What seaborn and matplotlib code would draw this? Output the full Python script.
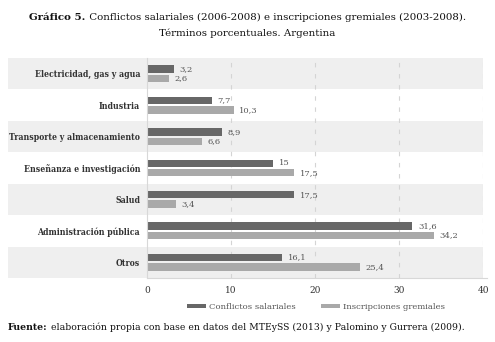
import pandas as pd
import numpy as np
import matplotlib.pyplot as plt
import seaborn as sns

sectores = ['Electricidad, gas y agua', 'Industria', 'Transporte y almacenamiento',
            'Enseñanza e investigación', 'Salud', 'Administración pública', 'Otros']
conflictos = [3.2, 7.7, 8.9, 15, 17.5, 31.6, 16.1]
inscripciones = [2.6, 10.3, 6.6, 17.5, 3.4, 34.2, 25.4]
series = ['Conflictos salariales', 'Inscripciones gremiales']
xticks = [0, 10, 20, 30, 40]

df = pd.DataFrame({
    'sector': sectores * 2,
    'valor': conflictos + inscripciones,
    'serie': [series[0]] * len(sectores) + [series[1]] * len(sectores),
})

sns.set_style('white')
plt.rcParams['font.family'] = ['DejaVu Serif']

fig = plt.figure(figsize=(4.95, 3.42), dpi=100)
ax = fig.add_axes([147 / 495, 1 - 278 / 342, 336 / 495, 220 / 342])

sns.barplot(data=df, y='sector', x='valor', hue='serie', orient='h',
            palette=['#676767', '#a9a9a9'], width=0.6, gap=0.2, ax=ax,
            saturation=1, legend=True, linewidth=0)

# alternating bands, extending under the category labels
for i in range(len(sectores)):
    if i % 2 == 0:
        ax.axhspan(i - 0.5, i + 0.5, xmin=-0.414, xmax=1.0, color='#efefef',
                   zorder=0, clip_on=False, lw=0)

ax.set_xlim(0, 40)
ax.set_ylim(6.5, -0.5)
ax.set_xticks(xticks)
ax.set_xticklabels([str(t) for t in xticks], fontsize=6.5, color='#333333')
ax.tick_params(axis='both', length=0)
ax.tick_params(axis='x', pad=6)
ax.set_yticks(range(len(sectores)))
ax.set_yticklabels(sectores, fontsize=6.2, fontweight='bold', color='#333333',
                   fontstretch='condensed')
ax.tick_params(axis='y', pad=5)
ax.set_xlabel('')
ax.set_ylabel('')
for t in [10, 20, 30, 40]:
    ax.axvline(t, color='#d4d4d4', lw=0.8, ls=(0, (4, 6)), zorder=0.5)
for s in ['top', 'right']:
    ax.spines[s].set_visible(False)
ax.spines['left'].set_color('#d8d8d8')
ax.spines['bottom'].set_color('#d8d8d8')
ax.spines['bottom'].set_bounds(0, 40.5)
ax.patch.set_alpha(0)

for cont in ax.containers:
    labels = [f'{v:g}'.replace('.', ',') for v in cont.datavalues]
    ax.bar_label(cont, labels=labels, padding=4, fontsize=6.0, color='#555555')

handles, labs = ax.get_legend_handles_labels()
ax.get_legend().remove()
fig.legend(handles, labs, loc='center', bbox_to_anchor=(316 / 495, 1 - 307 / 342),
           ncol=2, frameon=False, fontsize=6.1, handlelength=2.2, handleheight=0.5,
           columnspacing=3.0, handletextpad=0.4, labelcolor='#555555')

# title and footer with bold prefixes
fig.canvas.draw()
r = fig.canvas.get_renderer()

def mixed_line(x, y, bold, normal, size, center=False):
    tb = fig.text(0, y, bold, fontsize=size, fontweight='bold', va='center', color='#111111')
    tn = fig.text(0, y, ' ' + normal, fontsize=size, va='center', color='#111111')
    wb = tb.get_window_extent(r).width / fig.bbox.width
    wn = tn.get_window_extent(r).width / fig.bbox.width
    x0 = x - (wb + wn) / 2 if center else x
    tb.set_x(x0)
    tn.set_x(x0 + wb)

mixed_line(0.5, 1 - 17 / 342, 'Gráfico 5.',
           'Conflictos salariales (2006-2008) e inscripciones gremiales (2003-2008).', 7.4, center=True)
fig.text(0.5, 1 - 33 / 342, 'Términos porcentuales. Argentina', fontsize=7.4,
         ha='center', va='center', color='#111111')
mixed_line(8 / 495, 1 - 327 / 342, 'Fuente:',
           'elaboración propia con base en datos del MTEySS (2013) y Palomino y Gurrera (2009).', 6.7)

fig.savefig('out.png', dpi=100)
